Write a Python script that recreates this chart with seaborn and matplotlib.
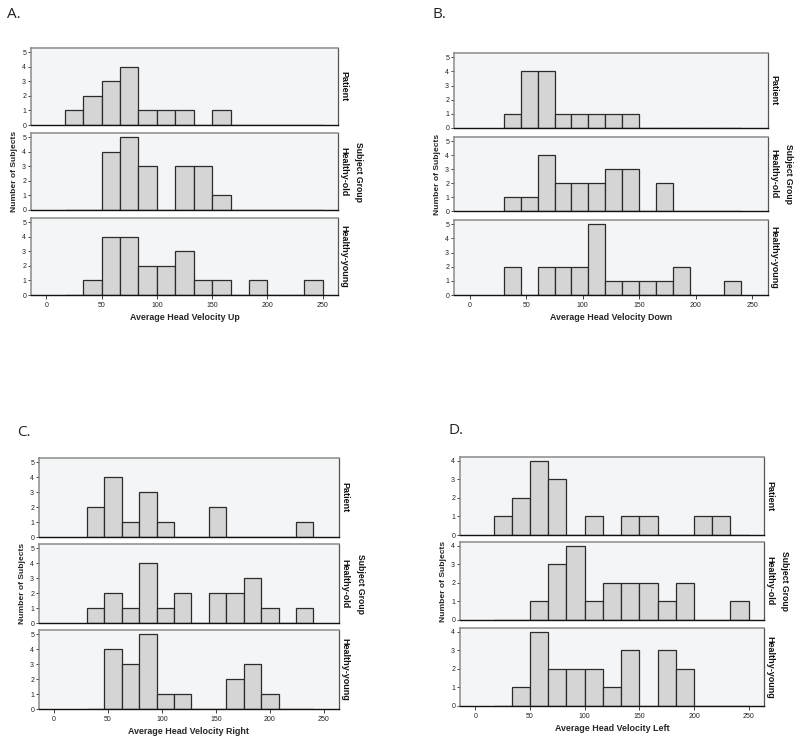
import numpy as np
import pandas as pd
import matplotlib
matplotlib.use("Agg")
import matplotlib.pyplot as plt
import seaborn as sns

sns.set_theme(style="white")
plt.rcParams['font.family'] = ['Liberation Sans', 'DejaVu Sans']

groups = ["Patient", "Healthy-old", "Healthy-young"]

# Panel A: Average Head Velocity Up (bins of 16.67 starting at 16.67)
a_start, a_width = 16.667, 16.667
a_patient = [1, 2, 3, 4, 1, 1, 1, 0, 1, 0, 0, 0, 0, 0]
a_old     = [0, 0, 4, 5, 3, 0, 3, 3, 1, 0, 0, 0, 0, 0]
a_young   = [0, 1, 4, 4, 2, 2, 3, 1, 1, 0, 1, 0, 0, 1]

# Panel B: Average Head Velocity Down (bins of 15 starting at 30)
b_start, b_width = 30.0, 15.0
b_patient = [1, 4, 4, 1, 1, 1, 1, 1, 0, 0, 0, 0, 0, 0]
b_old     = [1, 1, 4, 2, 2, 2, 3, 3, 0, 2, 0, 0, 0, 0]
b_young   = [2, 0, 2, 2, 2, 5, 1, 1, 1, 1, 2, 0, 0, 1]

# Panel C: Average Head Velocity Right (bins of ~16.14 starting at 30.4)
c_start, c_width = 30.4, 16.14
c_patient = [2, 4, 1, 3, 1, 0, 0, 2, 0, 0, 0, 0, 1]
c_old     = [1, 2, 1, 4, 1, 2, 0, 2, 2, 3, 1, 0, 1]
c_young   = [0, 4, 3, 5, 1, 1, 0, 0, 2, 3, 1, 0, 0]

# Panel D: Average Head Velocity Left (bins of 16.67 starting at 16.67)
d_start, d_width = 16.667, 16.667
d_patient = [1, 2, 4, 3, 0, 1, 0, 1, 1, 0, 0, 1, 1, 0]
d_old     = [0, 0, 1, 3, 4, 1, 2, 2, 2, 1, 2, 0, 0, 1]
d_young   = [0, 1, 4, 2, 2, 2, 1, 3, 0, 3, 2, 0, 0, 0]

panels = [
    dict(letter="A.", xlabel="Average Head Velocity Up", start=a_start, width=a_width,
         counts=[a_patient, a_old, a_young], yticks=[0, 1, 2, 3, 4, 5], ymax=5.3,
         x0=31, x1=338, rows=[(48, 125), (133, 210), (218, 295)], letter_xy=(7, 14)),
    dict(letter="B.", xlabel="Average Head Velocity Down", start=b_start, width=b_width,
         counts=[b_patient, b_old, b_young], yticks=[0, 1, 2, 3, 4, 5], ymax=5.3,
         x0=454, x1=768, rows=[(53, 128), (137, 211), (220, 295)], letter_xy=(433, 14)),
    dict(letter="C.", xlabel="Average Head Velocity Right", start=c_start, width=c_width,
         counts=[c_patient, c_old, c_young], yticks=[0, 1, 2, 3, 4, 5], ymax=5.3,
         x0=39, x1=339, rows=[(458, 537), (544, 623), (630, 709)], letter_xy=(17, 432)),
    dict(letter="D.", xlabel="Average Head Velocity Left", start=d_start, width=d_width,
         counts=[d_patient, d_old, d_young], yticks=[0, 1, 2, 3, 4], ymax=4.2,
         x0=460, x1=764, rows=[(457, 535), (542, 620), (628, 706)], letter_xy=(449, 430)),
]

W, H = 800, 745
fig = plt.figure(figsize=(W / 100, H / 100), dpi=100)
fig.patch.set_facecolor("white")

bar_face = "#d5d5d5"
bar_edge = "#2b2b2b"
bg = "#f4f5f7"
xticks = [0, 50, 100, 150, 200, 250]

for p in panels:
    nb = len(p["counts"][0])
    edges = [p["start"] + p["width"] * i for i in range(nb + 1)]
    centers = [(edges[i] + edges[i + 1]) / 2 for i in range(nb)]
    axw = p["x1"] - p["x0"]
    axes = []
    for gi, (grp, cnt) in enumerate(zip(groups, p["counts"])):
        top, bot = p["rows"][gi]
        ax = fig.add_axes([p["x0"] / W, 1 - bot / H, axw / W, (bot - top) / H])
        ax.set_facecolor(bg)
        df = pd.DataFrame({"value": centers, "count": cnt})
        df = df[df["count"] > 0]
        sns.histplot(data=df, x="value", weights="count", bins=edges, ax=ax,
                     color=bar_face, edgecolor=bar_edge, linewidth=0.9, alpha=1)
        ax.set_xlim(-14, 264)
        ax.set_ylim(0, p["ymax"])
        ax.set_yticks(p["yticks"])
        ax.set_yticklabels([str(t) for t in p["yticks"]], fontsize=5)
        ax.tick_params(axis="y", direction="out", length=2, width=0.6, pad=1.5,
                       left=True, colors="#222222")
        ax.set_ylabel("")
        ax.set_xlabel("")
        ax.set_xticks(xticks)
        if gi < 2:
            ax.tick_params(axis="x", bottom=False, labelbottom=False)
        else:
            ax.set_xticklabels([str(t) for t in xticks], fontsize=5)
            ax.tick_params(axis="x", direction="out", length=3, width=0.6, pad=2,
                           bottom=True, colors="#222222")
        for side in ["top", "left"]:
            ax.spines[side].set_color("#8a8a8a")
            ax.spines[side].set_linewidth(1.1)
        ax.spines["right"].set_color("#555555")
        ax.spines["right"].set_linewidth(0.9)
        ax.spines["bottom"].set_color("#111111")
        ax.spines["bottom"].set_linewidth(1.0)
        ax.text(1 + 6 / axw, 0.5, grp, transform=ax.transAxes, rotation=-90,
                ha="center", va="center", fontsize=6.5, fontweight="bold", color="#111111")
        axes.append(ax)
    # shared labels
    axes[2].set_xlabel(p["xlabel"], fontsize=6.4, fontweight="bold", labelpad=3)
    axes[1].set_ylabel("Number of Subjects", fontsize=6.1, fontweight="bold", labelpad=3)
    axes[1].text(1 + 21 / axw, 0.5, "Subject Group", transform=axes[1].transAxes, rotation=-90,
                 ha="center", va="center", fontsize=6.2, fontweight="bold", color="#111111")
    lx, ly = p["letter_xy"]
    fig.text(lx / W, 1 - ly / H, p["letter"], fontsize=11, family=["Open Sans", "DejaVu Sans"],
             ha="left", va="center", color="#222222")

fig.savefig("out.png", dpi=100, facecolor="white")
